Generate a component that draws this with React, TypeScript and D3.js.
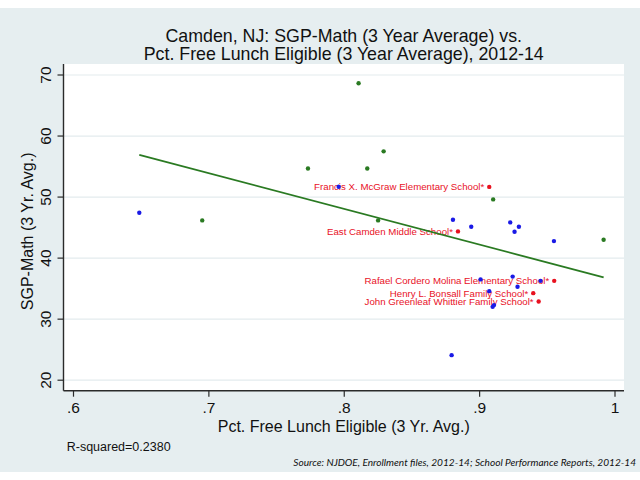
import React from "react";
import * as d3 from "d3";

// ---- data ----
const blueFreeLunch = [0.6486, 0.7959, 0.8803, 0.8938, 0.9226, 0.929, 0.9258, 0.9549, 0.9007, 0.9244, 0.928, 0.945, 0.9071, 0.9096, 0.9106, 0.8793];
const blueSgpMath = [47.43, 51.69, 46.28, 45.13, 45.85, 45.13, 44.31, 42.79, 36.51, 36.97, 35.3, 36.28, 34.59, 32.02, 32.3, 24.1];

const greenFreeLunch = [0.6951, 0.7732, 0.8106, 0.817, 0.8291, 0.825, 0.91, 0.9916];
const greenSgpMath = [46.18, 54.67, 68.64, 54.67, 57.49, 46.18, 49.62, 43.0];

const redNames = [
  "Francis X. McGraw Elementary School*",
  "East Camden Middle School*",
  "Rafael Cordero Molina Elementary School*",
  "Henry L. Bonsall Family School*",
  "John Greenleaf Whittier Family School*",
];
const redFreeLunch = [0.9071, 0.884, 0.9551, 0.9396, 0.9436];
const redSgpMath = [51.67, 44.38, 36.28, 34.26, 32.9];

const fitIntercept = 94.92;
const fitSlope = -58.57;

const xTicks = [0.6, 0.7, 0.8, 0.9, 1.0];
const xTickLabels = [".6", ".7", ".8", ".9", "1"];
const yTicks = [20, 30, 40, 50, 60, 70];

const titleLines = [
  "Camden, NJ: SGP-Math (3 Year Average) vs.",
  "Pct. Free Lunch Eligible (3 Year Average), 2012-14",
];
const xAxisTitle = "Pct. Free Lunch Eligible (3 Yr. Avg.)";
const yAxisTitle = "SGP-Math (3 Yr. Avg.)";
const rSquaredNote = "R-squared=0.2380";
const sourceNote = "Source: NJDOE, Enrollment files, 2012-14; School Performance Reports, 2012-14";

// ---- layout ----
const W = 640;
const H = 480;
const plot = { left: 63.5, right: 624, top: 64, bottom: 390.7 };
const FONT = "'Liberation Sans', Arial, Helvetica, sans-serif";
const BG = "#e6eef0";
const GRID = "#e3ebee";
const AXIS = "#2a2a2a";
const BLUE = "#1a1ae6";
const GREEN = "#2a7a22";
const RED = "#e8111f";

export default function App() {
  const x = d3.scaleLinear().domain([0.6, 1.0]).range([73.5, 615]);
  const y = d3.scaleLinear().domain([20, 70]).range([380.2, 75]);

  const allX = [...blueFreeLunch, ...greenFreeLunch, ...redFreeLunch];
  const [xMin, xMax] = d3.extent(allX) as [number, number];
  const fitLine = d3
    .line<number>()
    .x((d) => x(d))
    .y((d) => y(fitIntercept + fitSlope * d));

  const cx = (plot.left + plot.right) / 2;
  const cy = (plot.top + plot.bottom) / 2;

  return (
    <svg
      width={W}
      height={H}
      style={{ position: "absolute", left: 0, top: 0, background: "#fff" }}
      fontFamily={FONT}
    >
      <rect x={0} y={8} width={W} height={464} fill={BG} />
      <rect x={plot.left} y={plot.top} width={plot.right - plot.left} height={plot.bottom - plot.top} fill="#fff" />

      {/* title */}
      {titleLines.map((t, i) => (
        <text key={i} x={cx} y={42 + i * 18.4} textAnchor="middle" fontSize={17.8} fill="#111">
          {t}
        </text>
      ))}

      {/* gridlines */}
      {yTicks.map((t) => (
        <line key={t} x1={plot.left} x2={plot.right} y1={y(t)} y2={y(t)} stroke={GRID} strokeWidth={1.2} />
      ))}

      {/* red labelled points */}
      {redFreeLunch.map((v, i) => (
        <g key={i}>
          <text
            x={x(v) - 5}
            y={y(redSgpMath[i])}
            dy="0.35em"
            textAnchor="end"
            fontSize={9.7}
            fill={RED}
          >
            {redNames[i]}
          </text>
          <circle cx={x(v)} cy={y(redSgpMath[i])} r={2.2} fill={RED} />
        </g>
      ))}

      {/* green points */}
      {greenFreeLunch.map((v, i) => (
        <circle key={i} cx={x(v)} cy={y(greenSgpMath[i])} r={2.2} fill={GREEN} />
      ))}

      {/* blue points */}
      {blueFreeLunch.map((v, i) => (
        <circle key={i} cx={x(v)} cy={y(blueSgpMath[i])} r={2.2} fill={BLUE} />
      ))}

      {/* fit line */}
      <path d={fitLine([xMin, xMax]) || ""} fill="none" stroke={GREEN} strokeWidth={1.8} />

      {/* axes */}
      <line x1={plot.left} x2={plot.left} y1={plot.top} y2={plot.bottom} stroke={AXIS} strokeWidth={1.4} />
      <line x1={plot.left} x2={plot.right} y1={plot.bottom} y2={plot.bottom} stroke={AXIS} strokeWidth={1.4} />

      {yTicks.map((t) => (
        <g key={t}>
          <line x1={plot.left - 6} x2={plot.left} y1={y(t)} y2={y(t)} stroke={AXIS} strokeWidth={1.2} />
          <text
            transform={`translate(51,${y(t)}) rotate(-90)`}
            textAnchor="middle"
            fontSize={15.5}
            fill="#111"
          >
            {t}
          </text>
        </g>
      ))}

      {xTicks.map((t, i) => (
        <g key={t}>
          <line x1={x(t)} x2={x(t)} y1={plot.bottom} y2={plot.bottom + 6} stroke={AXIS} strokeWidth={1.2} />
          <text x={x(t)} y={413.3} textAnchor="middle" fontSize={15.5} fill="#111">
            {xTickLabels[i]}
          </text>
        </g>
      ))}

      {/* axis titles */}
      <text x={cx} y={431.5} textAnchor="middle" fontSize={16} fill="#111">
        {xAxisTitle}
      </text>
      <text transform={`translate(33.3,${cy + 4}) rotate(-90)`} textAnchor="middle" fontSize={16} fill="#111">
        {yAxisTitle}
      </text>

      {/* notes */}
      <text x={66.7} y={450.7} fontSize={12.5} fill="#111">
        {rSquaredNote}
      </text>
      <text
        x={636}
        y={465.5}
        textAnchor="end"
        fontSize={10.1}
        fontStyle="italic"
        fontFamily="Lato, 'Open Sans', sans-serif"
        fill="#111"
      >
        {sourceNote}
      </text>
    </svg>
  );
}
